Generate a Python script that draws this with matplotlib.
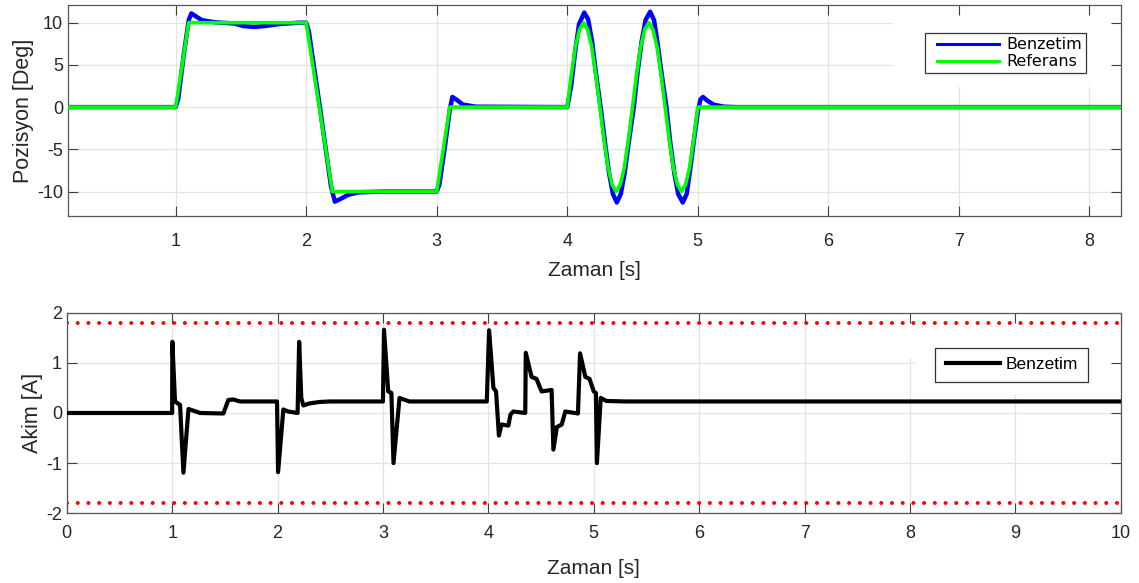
import matplotlib
matplotlib.use("Agg")
import matplotlib.pyplot as plt
from matplotlib.lines import Line2D
from matplotlib.legend_handler import HandlerLine2D
from matplotlib.patches import Rectangle

plt.rcParams["font.family"] = ["Liberation Sans", "DejaVu Sans"]
plt.rcParams["axes.unicode_minus"] = False

# --- top panel: position [Deg] ---
t_ref = [0.0, 1.0, 1.1, 2.0, 2.2, 3.0, 3.1, 4.0,
         4.031, 4.062, 4.094, 4.125, 4.156, 4.188, 4.219, 4.25,
         4.281, 4.312, 4.344, 4.375, 4.406, 4.438, 4.469, 4.5,
         4.531, 4.562, 4.594, 4.625, 4.656, 4.688, 4.719, 4.75,
         4.781, 4.812, 4.844, 4.875, 4.906, 4.938, 4.969, 5.0, 8.3]
pos_ref = [0, 0, 10, 10, -10, -10, 0, 0,
           3.8, 7.1, 9.2, 10, 9.2, 7.1, 3.8, 0,
           -3.8, -7.1, -9.2, -10, -9.2, -7.1, -3.8, 0,
           3.8, 7.1, 9.2, 10, 9.2, 7.1, 3.8, 0,
           -3.8, -7.1, -9.2, -10, -9.2, -7.1, -3.8, 0, 0]

t_sim = [0.0, 1.0, 1.02, 1.06, 1.1, 1.12, 1.15, 1.2, 1.3, 1.45, 1.52, 1.6, 1.68,
         1.8, 1.95, 2.0, 2.02, 2.1, 2.19, 2.22, 2.26, 2.32, 2.4, 2.6, 3.0,
         3.02, 3.06, 3.1, 3.12, 3.15, 3.2, 3.3, 4.0,
         4.03, 4.06, 4.09, 4.13, 4.16, 4.19, 4.22, 4.26, 4.29, 4.32, 4.35, 4.38,
         4.41, 4.44, 4.47, 4.51, 4.54, 4.57, 4.60, 4.635, 4.665, 4.69, 4.72,
         4.76, 4.79, 4.82, 4.85, 4.885, 4.915, 4.94, 4.97, 5.0, 5.02, 5.04,
         5.07, 5.12, 5.2, 5.3, 8.3]
pos_sim = [0, 0, 1.0, 6.0, 10.3, 11.1, 10.8, 10.3, 10.05, 9.9, 9.6, 9.5, 9.6,
           9.85, 10.0, 10.0, 9.0, 0.5, -9.4, -11.2, -10.9, -10.4, -10.1, -10.0, -10.0,
           -9.2, -5.0, -0.3, 1.2, 0.9, 0.3, 0.05, 0,
           2.5, 6.5, 9.8, 11.2, 10.4, 7.8, 4.0, -0.5, -4.3, -7.8, -10.3, -11.3,
           -10.3, -7.8, -4.3, 0.0, 4.3, 7.8, 10.3, 11.3, 10.3, 7.8, 4.3,
           0.0, -4.3, -7.8, -10.3, -11.3, -10.3, -7.6, -4.0, -0.6, 0.9, 1.2,
           0.8, 0.3, 0.05, 0, 0]

# --- bottom panel: current [A] ---
t_cur = [0.0, 1.0, 1.002, 1.027, 1.075, 1.107, 1.155, 1.266, 1.486, 1.533, 1.58,
         1.643, 1.995, 2.005, 2.055, 2.1, 2.19, 2.205, 2.225, 2.245, 2.3, 2.4,
         2.5, 3.0, 3.01, 3.05, 3.08, 3.1, 3.157, 3.25, 3.985,
         4.007, 4.048, 4.073, 4.10, 4.125, 4.19, 4.21, 4.237, 4.35, 4.355,
         4.41, 4.457, 4.505, 4.6, 4.617, 4.65, 4.696, 4.73, 4.85, 4.87,
         4.92, 4.96, 5.0, 5.02, 5.03, 5.066, 5.12, 5.3, 10.0]
akim = [0, 0, 1.42, 0.23, 0.16, -1.19, 0.08, 0.0, -0.01, 0.26, 0.27,
        0.23, 0.23, -1.18, 0.07, 0.03, 0.0, 1.42, 0.3, 0.15, 0.19, 0.22,
        0.23, 0.23, 1.66, 0.43, 0.4, -1.0, 0.3, 0.23, 0.23,
        1.65, 0.5, 0.43, -0.45, -0.23, -0.25, -0.03, 0.03, 0.0, 1.2,
        0.72, 0.68, 0.43, 0.46, -0.73, -0.28, -0.23, 0.03, -0.01, 1.19,
        0.72, 0.68, 0.43, 0.4, -1.0, 0.3, 0.24, 0.23, 0.23]
akim_limit = 1.8

GRID = "#e3e3e3"
AXC = "#404040"


def style_axes(ax, xticks, yticks, xpad):
    ax.set_xticks(xticks)
    ax.set_yticks(yticks)
    for v in xticks:
        ax.axvline(v, color=GRID, lw=0.9, zorder=0.1)
    for v in yticks:
        ax.axhline(v, color=GRID, lw=0.9, zorder=0.1)
    ax.tick_params(direction="in", length=7, width=0.8, top=True, right=True,
                   labelsize=13, colors=AXC, labelcolor="#262626")
    ax.tick_params(axis="x", pad=xpad)
    for s in ax.spines.values():
        s.set_color("#555555")
        s.set_linewidth(0.9)


def cover(ax, x0, y0, x1, y1):
    # white patch MATLAB leaves behind the legend
    ax.add_patch(Rectangle((x0, y0), x1 - x0, y1 - y0, transform=ax.transAxes,
                           facecolor="white", edgecolor="none", zorder=0.2))


fig = plt.figure(figsize=(11.39, 5.83), dpi=100)
ax1 = fig.add_axes([0.0597, 0.6295, 0.9242, 0.362])
ax2 = fig.add_axes([0.0586, 0.1196, 0.9254, 0.344])

ax1.plot(t_sim, pos_sim, color="#0000ff", lw=3.2, label="Benzetim", zorder=2)
ax1.plot(t_ref, pos_ref, color="#00ff00", lw=2.6, label="Referans", zorder=3)
ax1.set_xlim(0.175, 8.24)
ax1.set_ylim(-12.9, 12.1)
style_axes(ax1, [1, 2, 3, 4, 5, 6, 7, 8], [-10, -5, 0, 5, 10], xpad=12.5)
cover(ax1, 0.784, 0.611, 1.0, 1.0)
ax1.set_xlabel("Zaman [s]", fontsize=15, color="#262626", labelpad=8)
ax1.set_ylabel("Pozisyon [Deg]", fontsize=15.5, color="#262626", labelpad=2)
leg1 = ax1.legend(loc="upper right", bbox_to_anchor=(0.967, 0.866),
                  prop={"family": "DejaVu Sans", "size": 11.5},
                  handler_map={Line2D: HandlerLine2D(xpad=0.5)},
                  handlelength=4.4, handletextpad=0.45, borderpad=0.25,
                  labelspacing=0.12, borderaxespad=0, fancybox=False,
                  framealpha=1, edgecolor="#333333")
leg1.get_frame().set_linewidth(0.9)
for h in leg1.get_lines():
    h.set_linewidth(2.2)

ax2.plot(t_cur, akim, color="black", lw=3.0, label="Benzetim", zorder=3)
ax2.axhline(akim_limit, color="red", lw=2.9, ls=(0, (0.01, 2.65)),
            dash_capstyle="round", zorder=2)
ax2.axhline(-akim_limit, color="red", lw=2.9, ls=(0, (0.01, 2.65)),
            dash_capstyle="round", zorder=2)
ax2.set_xlim(0, 10)
ax2.set_ylim(-2, 2)
style_axes(ax2, list(range(11)), [-2, -1, 0, 1, 2], xpad=8.6)
cover(ax2, 0.795, 0.774, 1.0, 1.0)
cover(ax2, 0.805, 0.59, 1.0, 1.0)
ax2.set_xlabel("Zaman [s]", fontsize=15, color="#262626", labelpad=12)
ax2.set_ylabel("Akim [A]", fontsize=15.5, color="#262626", labelpad=2)
leg2 = ax2.legend(loc="upper right", bbox_to_anchor=(0.9687, 0.8255),
                  prop={"size": 12.5},
                  handler_map={Line2D: HandlerLine2D(xpad=0.12)},
                  handlelength=3.2, handletextpad=0.34, borderpad=0.55,
                  borderaxespad=0, fancybox=False, framealpha=1,
                  edgecolor="#333333")
leg2.get_frame().set_linewidth(0.9)

fig.savefig("out.png", dpi=100)
